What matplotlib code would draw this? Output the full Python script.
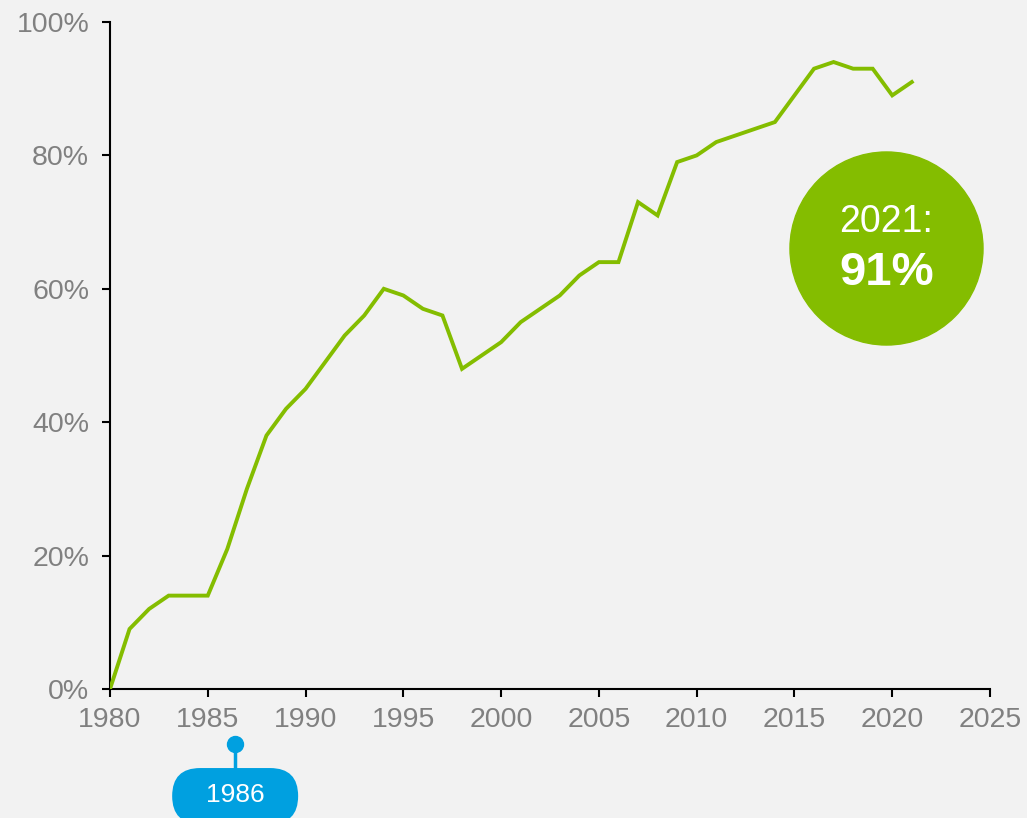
import matplotlib.pyplot as plt
import matplotlib.transforms as mtransforms
from matplotlib.patches import FancyBboxPatch
from matplotlib.ticker import FuncFormatter

# ===== data =====
YEARS = list(range(1980, 2022))
SHARE = [0, 9, 12, 14, 14, 14, 21, 30, 38, 42,
         45, 49, 53, 56, 60, 59, 57, 56, 48, 50,
         52, 55, 57, 59, 62, 64, 64, 73, 71, 79,
         80, 82, 83, 84, 85, 89, 93, 94, 93, 93,
         89, 91]
X_TICKS = list(range(1980, 2026, 5))
Y_TICKS = [0, 20, 40, 60, 80, 100]
MARK_YEAR = 1986.4
MARK_LABEL = "1986"
BUBBLE_TITLE = "2021:"
BUBBLE_VALUE = "91%"

GREEN = "#84bd00"
BLUE = "#00a0e0"
GRAY = "#808080"
BG = "#f2f2f2"

plt.rcParams['font.family'] = ['Liberation Sans', 'DejaVu Sans']

fig = plt.figure(figsize=(10.27, 8.18), dpi=100, facecolor=BG)
ax = fig.add_axes([0.1071, 0.1577, 0.8569, 0.8154])
ax.set_facecolor(BG)

ax.plot(YEARS, SHARE, color=GREEN, lw=2.8, solid_joinstyle='miter', zorder=3)

ax.set_xlim(1980, 2025)
ax.set_ylim(0, 100)
ax.set_xticks(X_TICKS)
ax.set_yticks(Y_TICKS)
ax.yaxis.set_major_formatter(FuncFormatter(lambda v, p: f"{v:.0f}%"))
ax.tick_params(axis='both', colors='black', labelcolor=GRAY, labelsize=20.5,
               width=1.5, length=6, direction='out')
ax.tick_params(axis='x', pad=7)
ax.tick_params(axis='y', pad=9)
for side in ['top', 'right']:
    ax.spines[side].set_visible(False)
for side in ['left', 'bottom']:
    ax.spines[side].set_linewidth(1.5)

# green bubble
ax.scatter([2019.7], [66.1], s=(2 * 69.5) ** 2, color=GREEN, zorder=4, clip_on=False)
ax.text(2019.7, 70.0, BUBBLE_TITLE, color='white', fontsize=27, ha='center',
        va='center', zorder=5)
ax.text(2019.7, 62.3, BUBBLE_VALUE, color='white', fontsize=34, fontweight='bold',
        ha='center', va='center', zorder=5)

# 1986 marker below the axis
trans = mtransforms.blended_transform_factory(ax.transData, ax.transAxes)
ax.plot([MARK_YEAR, MARK_YEAR], [-0.0825, -0.12], color=BLUE, lw=2.5,
        transform=trans, clip_on=False)
ax.plot([MARK_YEAR], [-0.0825], 'o', color=BLUE, ms=11.5, transform=trans, clip_on=False)

# pill, sized in pixels around the marker position
px, py_top = trans.transform((MARK_YEAR, -0.1185))
pill_w, pill_h = 126, 56
pill = FancyBboxPatch((px - pill_w / 2, py_top - pill_h), pill_w, pill_h,
                      boxstyle=f"round,pad=0,rounding_size={pill_h / 2}",
                      fc=BLUE, ec='none', transform=None, clip_on=False)
fig.add_artist(pill)
fig.text(px, py_top - 27, MARK_LABEL, color='white', fontsize=19, ha='center',
         va='center', transform=None)

fig.savefig("out.png", dpi=100, facecolor=BG)
